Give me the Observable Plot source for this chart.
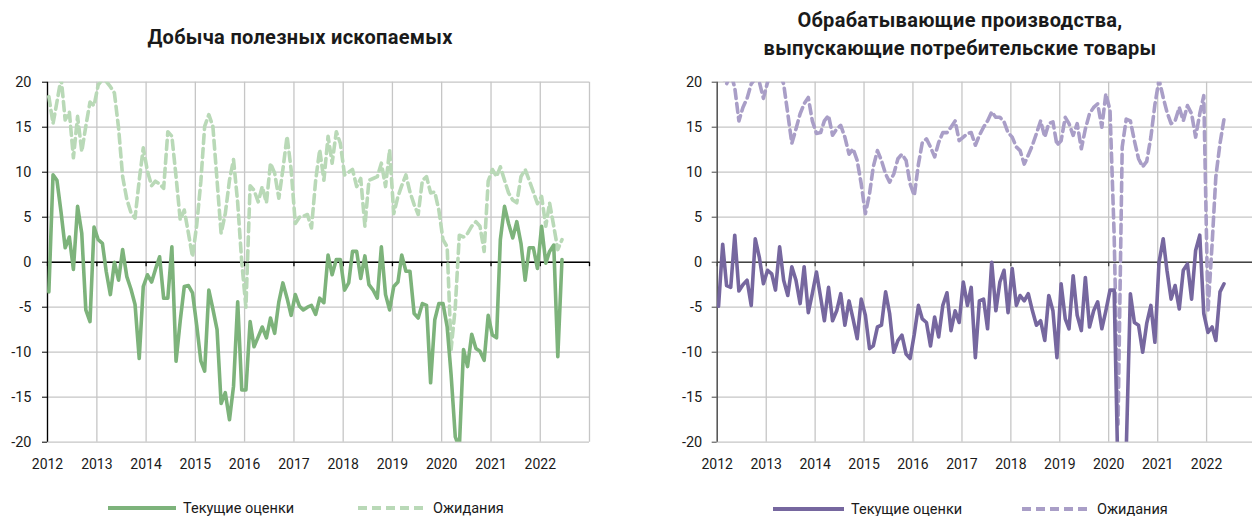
<!DOCTYPE html>
<html><head><meta charset="utf-8">
<script src="https://cdn.jsdelivr.net/npm/d3@7"></script>
<script src="https://cdn.jsdelivr.net/npm/@observablehq/plot@0.6"></script>
<style>
body{margin:0;background:#fff;font-family:Roboto,"Noto Sans",sans-serif;}
#wrap{position:relative;width:1252px;height:516px;overflow:hidden;background:#fff;}
.title{position:absolute;font-weight:700;font-size:20px;letter-spacing:0.3px;text-align:center;color:#1a1a1a;line-height:28px;}
.leg{position:absolute;display:flex;align-items:center;font-size:14.5px;color:#1a1a1a;height:20px;white-space:nowrap;}
.leg svg{margin-right:7px;}
.panel{position:absolute;top:70px;}
.panel svg{max-width:none !important;}
</style></head><body>
<div id="wrap">
  <div class="title" id="t1" style="left:0;top:23px;width:600px;"></div>
  <div class="title" id="t2" style="left:660px;top:6px;width:600px;"></div>
  <div class="panel" id="p1" style="left:0;width:626px;"></div>
  <div class="panel" id="p2" style="left:626px;width:640px;"></div>
  <div id="legends"></div>
</div>
<script>
const titleLeft = "Добыча полезных ископаемых";
const titleRight = ["Обрабатывающие производства,", "выпускающие потребительские товары"];
const seriesNames = ["Текущие оценки", "Ожидания"];
const startYear = 2012;
const yearLabels = [2012,2013,2014,2015,2016,2017,2018,2019,2020,2021,2022];
const endYear = 2023;
const yTicks = [20,15,10,5,0,-5,-10,-15,-20];

// Добыча полезных ископаемых — monthly from Jan 2012
const miningCurrent = [-3.3,9.7,9.1,5.5,1.6,2.8,-0.8,6.2,3.2,-5.3,
 -6.6,3.9,2.5,2.1,-1.0,-3.6,0.0,-2.0,1.4,-1.6,
 -3.0,-4.7,-10.7,-2.7,-1.4,-2.2,-0.8,0.6,-4.0,-4.0,
 1.7,-11.0,-6.5,-2.7,-2.6,-3.4,-7.0,-11.0,-12.1,-3.1,
 -5.2,-7.5,-15.7,-14.5,-17.5,-13.8,-4.4,-14.2,-14.2,-6.6,
 -9.4,-8.3,-7.2,-8.4,-6.2,-7.9,-4.4,-2.3,-4.0,-5.9,
 -3.6,-4.9,-5.3,-5.0,-4.8,-5.8,-4.0,-4.5,0.8,-1.4,
 0.3,0.3,-3.1,-2.3,1.2,1.2,-1.8,0.7,-2.5,-3.1,
 -4.0,1.7,-3.6,-5.3,-2.7,-2.2,0.8,-1.0,-1.0,-5.7,
 -6.2,-4.6,-4.8,-13.4,-6.4,-4.6,-4.6,-7.2,-12.5,-19.4,
 -20.6,-9.7,-11.6,-8.0,-9.6,-9.9,-10.9,-5.9,-8.1,-8.4,
 2.5,6.2,4.3,2.7,4.5,2.1,-2.0,1.6,1.6,-0.7,
 4.0,-0.1,1.2,1.9,-10.5,0.3];
const miningExpect = [18.4,15.4,17.8,20.5,15.8,16.7,11.6,16.2,12.3,15.1,
 17.8,17.4,19.7,20.3,20.1,19.5,18.8,14.9,9.5,7.0,
 5.5,4.9,9.1,12.7,10.1,8.5,9.0,8.7,8.2,14.5,
 14.0,9.5,4.7,5.8,3.2,0.6,4.1,9.0,15.1,16.4,
 15.1,9.1,3.2,5.4,9.1,11.4,6.6,0.0,-5.0,8.5,
 8.0,6.7,8.4,6.6,11.0,9.9,7.1,10.3,14.0,10.3,
 4.3,5.0,5.1,5.3,3.8,9.1,12.5,9.1,14.0,11.0,
 14.5,13.2,9.7,10.0,10.3,8.4,9.3,4.0,9.1,9.3,
 9.5,11.0,8.4,12.5,5.4,7.3,8.5,9.7,7.8,6.4,
 5.3,9.1,9.5,7.7,7.8,5.8,2.5,1.7,-9.7,-5.0,
 3.0,2.8,3.2,4.0,4.5,4.0,1.2,9.0,10.3,9.5,
 10.6,9.1,7.7,6.9,6.6,9.5,10.3,9.1,7.8,6.5,
 7.3,4.0,6.6,4.0,1.4,2.5];

// Обрабатывающие производства, выпускающие потребительские товары
const consumerCurrent = [-4.9,2.0,-2.6,-2.8,3.0,-3.2,-2.5,-2.0,-4.8,2.6,
 0.5,-2.4,-0.9,-1.3,-3.1,1.7,-2.0,-3.7,-0.5,-2.0,
 -4.6,-0.5,-5.6,-3.5,-1.1,-3.9,-6.5,-2.8,-6.5,-5.4,
 -3.5,-7.0,-4.3,-6.3,-8.5,-4.1,-5.9,-9.6,-9.3,-7.2,
 -7.0,-3.3,-5.7,-10.0,-8.7,-8.1,-10.2,-10.7,-8.0,-4.8,
 -6.3,-6.7,-9.3,-6.1,-8.3,-4.8,-3.4,-7.6,-5.4,-6.7,
 -2.2,-4.8,-2.8,-10.6,-4.3,-4.1,-7.4,0.0,-5.4,-2.2,
 -0.9,-5.6,-0.7,-4.8,-3.7,-4.3,-3.5,-5.4,-7.0,-6.5,
 -8.7,-3.7,-5.4,-10.6,-2.4,-6.3,-7.4,-1.5,-5.9,-7.6,
 -1.7,-7.2,-5.4,-4.4,-7.4,-5.4,-3.1,-3.1,-24,-25,
 -21,-3.5,-6.7,-7.0,-10.0,-6.8,-4.8,-8.9,0.0,2.6,
 -0.9,-4.1,-2.6,-5.2,-0.9,-0.2,-4.1,1.3,3.0,-5.7,
 -7.8,-7.2,-8.7,-3.3,-2.4];
const consumerExpect = [21,20.5,19.8,21,19.4,15.7,17.2,18.2,19.8,20.4,
 20.0,18.2,20.0,21,21.5,21,19.8,16.5,13.2,14.8,
 16.5,17.6,18.3,15.7,14.3,14.4,15.7,16.3,14.1,14.8,
 15.2,13.9,12.0,12.6,11.3,8.7,5.4,7.6,10.6,12.4,
 11.3,9.8,8.9,9.8,11.5,12.0,11.3,8.7,7.4,10.9,
 13.3,13.7,12.8,11.7,13.3,14.4,14.4,15.0,15.7,13.5,
 13.9,14.3,14.4,13.0,14.1,15.0,15.7,16.7,16.1,16.1,
 15.6,14.4,13.9,12.8,12.4,10.9,11.9,13.0,14.3,15.7,
 13.9,15.4,15.6,13.0,13.5,16.1,15.4,14.1,15.4,12.6,
 14.8,16.5,17.2,17.6,15.0,18.7,16.9,3.0,-18,12.8,
 15.9,15.7,13.5,11.5,10.6,11.2,13.9,17.5,20.3,18.3,
 16.7,15.4,15.7,17.2,15.7,17.4,16.5,13.9,16.5,18.5,
 -5.5,2.0,9.5,13.2,15.9];

const monthDate = i => new Date(Date.UTC(startYear, i, 11));
const yearDates = yearLabels.map(y => new Date(Date.UTC(y, 0, 1)));
const gridDates = [...yearDates, new Date(Date.UTC(endYear, 0, 1))];
const toRows = arr => arr.map((v, i) => ({date: monthDate(i), v}));

function panel({cur, exp, colCur, colExp, width, ml, mr, zeroColor, axisColor, tickPad}) {
  return Plot.plot({
    width, height: 410,
    marginTop: 11.7, marginBottom: 38.3, marginLeft: ml, marginRight: mr,
    style: {fontFamily: "Roboto, 'Noto Sans', sans-serif", fontSize: "14px", color: "#1a1a1a", background: "transparent", maxWidth: "none"},
    x: {type: "utc", domain: [gridDates[0], gridDates[gridDates.length - 1]]},
    y: {domain: [-20, 20]},
    marks: [
      Plot.ruleY(yTicks, {stroke: "#c6c6c6", strokeWidth: 1.3}),
      Plot.ruleX(gridDates, {stroke: "#c6c6c6", strokeWidth: 1.3}),
      Plot.ruleX([gridDates[0]], {y1: -20, y2: 20, stroke: axisColor, strokeWidth: 1.3}),
      Plot.ruleY([0], {stroke: zeroColor, strokeWidth: 1.5}),
      Plot.ruleX(gridDates, {y1: 0, y2: -0.5, stroke: zeroColor, strokeWidth: 1.3}),
      Plot.axisY(yTicks, {tickSize: 5, tickPadding: tickPad, tickFormat: d => String(d), fontSize: 14.5, stroke: axisColor, label: null}),
      Plot.axisX(yearDates, {tickSize: 0, tickPadding: 17, tickFormat: d => String(d.getUTCFullYear()), fontSize: 14, label: null}),
      Plot.line(toRows(exp), {x: "date", y: "v", stroke: colExp, strokeWidth: 3.6, strokeDasharray: "9,5", clip: true}),
      Plot.line(toRows(cur), {x: "date", y: "v", stroke: colCur, strokeWidth: 3.6, clip: true})
    ]
  });
}

const C = {g1: "#7db37b", g2: "#b9d9b7", p1: "#76679f", p2: "#a99ec7"};

document.getElementById("t1").textContent = titleLeft;
document.getElementById("t2").innerHTML = titleRight.map(s => `<div>${s}</div>`).join("");

document.getElementById("p1").appendChild(panel({cur: miningCurrent, exp: miningExpect, colCur: C.g1, colExp: C.g2,
  width: 626, ml: 47, mr: 37, zeroColor: "#000", axisColor: "#000", tickPad: 11}));
document.getElementById("p2").appendChild(panel({cur: consumerCurrent, exp: consumerExpect, colCur: C.p1, colExp: C.p2,
  width: 640, ml: 90.7, mr: 11, zeroColor: "#444", axisColor: "#444", tickPad: 10}));

function legendItem(x, y, color, dashed, label, w) {
  const d = document.createElement("div");
  d.className = "leg";
  d.style.left = x + "px";
  d.style.top = (y - 10) + "px";
  d.innerHTML = `<svg width="${w}" height="8"><line x1="0" x2="${w}" y1="4" y2="4" stroke="${color}" stroke-width="4" ${dashed ? 'stroke-dasharray="9,5"' : ''}/></svg><span>${label}</span>`;
  document.getElementById("legends").appendChild(d);
}
legendItem(108, 508, C.g1, false, seriesNames[0], 68);
legendItem(358, 508, C.g2, true, seriesNames[1], 68);
legendItem(773, 509, C.p1, false, seriesNames[0], 71);
legendItem(1022, 509, C.p2, true, seriesNames[1], 68);
</script>
</body></html>
